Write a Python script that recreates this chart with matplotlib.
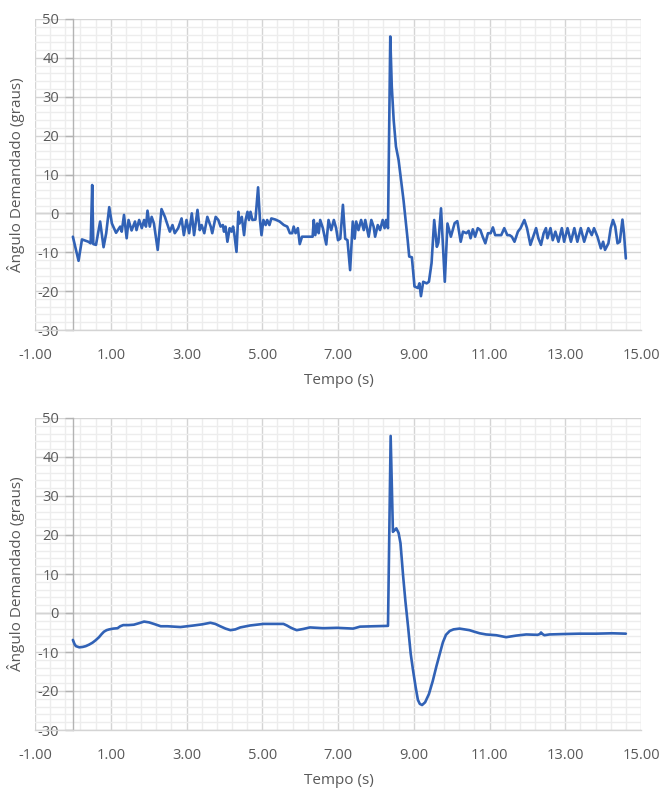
import matplotlib
matplotlib.use("Agg")
import matplotlib.pyplot as plt
from matplotlib.ticker import MultipleLocator, FixedLocator, FormatStrFormatter

# Sampled demanded angle (degrees) over time (s) - raw signal
t_raw = [0.00, 0.15, 0.24, 0.41, 0.47, 0.51, 0.54, 0.61, 0.72, 0.81, 0.88, 0.96,
         1.03, 1.14, 1.25, 1.29, 1.35, 1.42, 1.47, 1.55, 1.64, 1.68, 1.75, 1.82,
         1.88, 1.93, 1.97, 2.03, 2.08, 2.14, 2.24, 2.34, 2.43, 2.47, 2.56, 2.63,
         2.69, 2.78, 2.87, 2.93, 3.00, 3.07, 3.14, 3.20, 3.29, 3.35, 3.40, 3.47,
         3.55, 3.64, 3.68, 3.77, 3.84, 3.90, 3.96, 3.99, 4.03, 4.08, 4.14, 4.19,
         4.23, 4.26, 4.32, 4.37, 4.40, 4.46, 4.52, 4.56, 4.61, 4.65, 4.69, 4.74,
         4.82, 4.89, 4.94, 4.98, 5.03, 5.09, 5.13, 5.19, 5.24, 5.35, 5.46, 5.57,
         5.66, 5.73, 5.79, 5.83, 5.88, 5.94, 5.99, 6.05, 6.14, 6.27, 6.33, 6.36,
         6.40, 6.45, 6.49, 6.53, 6.60, 6.69, 6.75, 6.82, 6.89, 6.95, 7.00, 7.06,
         7.13, 7.19, 7.25, 7.32, 7.39, 7.44, 7.48, 7.54, 7.61, 7.68, 7.72, 7.81,
         7.88, 7.94, 7.98, 8.05, 8.11, 8.18, 8.23, 8.27, 8.32, 8.38, 8.42, 8.47,
         8.53, 8.60, 8.73, 8.84, 8.88, 8.95, 9.02, 9.11, 9.15, 9.19, 9.25, 9.34,
         9.40, 9.47, 9.54, 9.61, 9.65, 9.72, 9.82, 9.89, 9.98, 10.08, 10.15, 10.24,
         10.30, 10.39, 10.45, 10.50, 10.56, 10.62, 10.69, 10.76, 10.82, 10.89, 10.96, 11.03,
         11.09, 11.15, 11.22, 11.31, 11.39, 11.47, 11.53, 11.59, 11.66, 11.75, 11.82, 11.92,
         11.99, 12.08, 12.14, 12.23, 12.29, 12.36, 12.43, 12.49, 12.53, 12.61, 12.67, 12.74,
         12.82, 12.91, 12.97, 13.06, 13.15, 13.24, 13.32, 13.41, 13.50, 13.61, 13.70, 13.76,
         13.85, 13.94, 14.00, 14.05, 14.14, 14.20, 14.26, 14.32, 14.38, 14.44, 14.51, 14.55,
         14.60]
angle_raw = [-6.0, -12.2, -6.7, -7.3, -7.7, 7.3, -7.9, -8.1, -2.1, -8.7, -5.1, 1.6,
             -2.6, -5.0, -3.4, -4.7, -0.4, -6.4, -1.7, -4.4, -2.1, -4.3, -1.7, -3.8,
             -1.7, -3.4, 0.7, -3.4, -0.9, -2.6, -9.4, 1.1, -0.9, -2.1, -4.7, -3.0,
             -5.1, -3.8, -1.3, -5.6, -1.7, -5.1, 0.0, -5.6, 0.9, -4.3, -3.0, -5.1,
             -0.9, -3.4, -5.1, -0.9, -1.7, -3.4, -3.0, -4.7, -3.4, -7.3, -3.8, -4.7,
             -3.4, -5.1, -9.9, 0.4, -2.6, -0.9, -5.6, -1.7, 0.4, -1.7, 0.4, -1.7,
             -1.6, 6.7, -1.7, -5.6, -1.7, -3.0, -1.7, -3.0, -1.3, -1.6, -2.1, -3.0,
             -3.4, -5.1, -5.1, -3.4, -5.1, -3.8, -7.9, -6.0, -6.0, -6.0, -6.0, -1.7,
             -5.6, -2.6, -5.1, -1.7, -3.8, -8.0, -1.7, -4.3, -1.7, -3.8, -6.9, -6.5,
             2.2, -6.5, -6.9, -14.6, -2.1, -6.5, -2.1, -4.3, -1.7, -4.3, -1.7, -6.0,
             -1.7, -3.4, -6.0, -3.0, -4.3, -1.7, -3.8, -1.7, -3.8, 45.5, 32.6, 24.0,
             17.2, 13.7, 3.4, -6.9, -11.1, -11.3, -18.8, -19.2, -18.0, -21.3, -17.6, -18.0,
             -17.6, -12.8, -1.7, -8.6, -7.5, 1.3, -17.6, -2.6, -6.0, -2.5, -2.0, -7.3,
             -4.7, -5.1, -4.5, -6.4, -4.1, -6.0, -3.8, -4.3, -6.0, -7.7, -5.1, -5.1,
             -3.6, -5.6, -5.6, -5.6, -3.8, -5.6, -5.6, -6.0, -7.3, -4.7, -3.8, -1.7,
             -3.8, -8.1, -6.4, -3.8, -6.4, -8.1, -5.1, -3.8, -6.4, -3.8, -6.9, -4.7,
             -7.3, -3.8, -7.3, -3.8, -7.3, -3.8, -7.3, -3.8, -7.3, -3.8, -5.6, -3.8,
             -6.0, -9.0, -7.3, -9.4, -7.7, -3.8, -1.7, -3.4, -7.7, -7.3, -1.6, -5.1,
             -11.6]

# Filtered demanded angle (degrees) over time (s)
t_filt = [0.00, 0.04, 0.08, 0.17, 0.26, 0.34, 0.43, 0.52, 0.60, 0.69, 0.76, 0.82,
          0.89, 0.96, 1.07, 1.18, 1.25, 1.33, 1.47, 1.61, 1.75, 1.88, 2.01, 2.14,
          2.32, 2.50, 2.84, 3.19, 3.42, 3.63, 3.76, 3.89, 4.03, 4.16, 4.29, 4.42,
          4.68, 5.03, 5.30, 5.56, 5.65, 5.74, 5.83, 5.91, 6.08, 6.26, 6.61, 6.97,
          7.40, 7.58, 7.93, 8.32, 8.39, 8.45, 8.50, 8.54, 8.60, 8.65, 8.72, 8.78,
          8.85, 8.92, 8.98, 9.05, 9.11, 9.16, 9.22, 9.30, 9.40, 9.50, 9.60, 9.70,
          9.77, 9.85, 9.95, 10.05, 10.21, 10.47, 10.60, 10.74, 10.91, 11.18, 11.44, 11.70,
          11.97, 12.27, 12.33, 12.36, 12.40, 12.45, 12.58, 12.93, 13.37, 13.81, 14.24, 14.60]
angle_filt = [-6.9, -7.9, -8.5, -8.8, -8.7, -8.5, -8.1, -7.6, -7.0, -6.2, -5.4, -4.8,
              -4.4, -4.2, -4.0, -3.9, -3.4, -3.1, -3.1, -3.0, -2.6, -2.2, -2.4, -2.8,
              -3.4, -3.4, -3.6, -3.2, -2.9, -2.5, -2.8, -3.4, -4.0, -4.4, -4.2, -3.7,
              -3.2, -2.8, -2.8, -2.8, -3.2, -3.7, -4.1, -4.4, -4.1, -3.7, -3.9, -3.8,
              -4.0, -3.5, -3.4, -3.3, 45.4, 20.8, 21.3, 21.7, 20.5, 17.9, 9.4, 3.0,
              -3.5, -10.5, -14.6, -19.0, -22.3, -23.3, -23.6, -22.9, -20.8, -17.5, -13.6, -10.0,
              -7.5, -5.6, -4.6, -4.2, -4.0, -4.4, -4.8, -5.2, -5.5, -5.7, -6.2, -5.8,
              -5.5, -5.6, -5.4, -5.0, -5.4, -5.7, -5.5, -5.4, -5.3, -5.3, -5.2, -5.3]

x_tick_values = [-1, 1, 3, 5, 7, 9, 11, 13, 15]
y_tick_values = [-30, -20, -10, 0, 10, 20, 30, 40, 50]
x_title = "Tempo (s)"
y_title = "Ângulo Demandado (graus)"

plt.rcParams["font.family"] = ["Open Sans", "DejaVu Sans"]

LINE = "#3162b6"
TEXT = "#595959"
MAJOR = "#d4d4d4"
MINOR = "#ededed"
AXIS = "#b3b3b3"

W, H = 664, 789
fig = plt.figure(figsize=(W / 100, H / 100), dpi=100)
left_px, right_px = 35, 641
minor_x = [-1 + 0.4 * k for k in range(41)]


def make_axes(top_px, bottom_px, t, v, weight):
    ax = fig.add_axes([left_px / W, 1 - bottom_px / H,
                       (right_px - left_px) / W, (bottom_px - top_px) / H])
    ax.set_xlim(-1, 15)
    ax.set_ylim(-30, 50)
    ax.xaxis.set_major_locator(FixedLocator(x_tick_values))
    ax.xaxis.set_minor_locator(FixedLocator(minor_x))
    ax.yaxis.set_major_locator(FixedLocator(y_tick_values))
    ax.yaxis.set_minor_locator(MultipleLocator(2))
    ax.xaxis.set_major_formatter(FormatStrFormatter("%.2f"))
    ax.yaxis.set_major_formatter(FormatStrFormatter("%d"))

    ax.grid(which="minor", color=MINOR, linewidth=1.0)
    ax.grid(which="major", color=MAJOR, linewidth=1.0)
    ax.set_axisbelow(True)

    for side in ("top", "right"):
        ax.spines[side].set_visible(False)
    ax.spines["bottom"].set_color(MAJOR)
    ax.spines["bottom"].set_linewidth(1.0)
    ax.spines["left"].set_position(("data", 0))
    ax.spines["left"].set_color(AXIS)
    ax.spines["left"].set_linewidth(1.0)
    ax.axhline(0, color=AXIS, linewidth=1.0, zorder=0.5)

    ax.tick_params(axis="x", which="both", length=0, pad=13, labelsize=10.5, labelcolor=TEXT)
    ax.tick_params(axis="y", which="major", length=6, width=1.0, color=AXIS,
                   direction="out", pad=4, labelsize=10.5, labelcolor=TEXT)
    ax.tick_params(axis="y", which="minor", length=0)

    ax.plot(t, v, color=LINE, linewidth=1.9, solid_joinstyle="round",
            solid_capstyle="round", zorder=3)

    # axis titles placed in figure pixels
    fig.text((left_px + right_px) / 2 / W + 0.5 / W, 1 - (bottom_px + 51) / H, x_title,
             ha="center", va="center", fontsize=11, color=TEXT, fontweight=weight)
    fig.text(16 / W, 1 - (top_px + bottom_px) / 2 / H, y_title, rotation=90,
             ha="center", va="center", fontsize=11, color=TEXT, fontweight=weight)
    return ax


ax1 = make_axes(19, 330, t_raw, angle_raw, "normal")
ax2 = make_axes(418, 730, t_filt, angle_filt, "normal")

fig.savefig("out.png", dpi=100)
